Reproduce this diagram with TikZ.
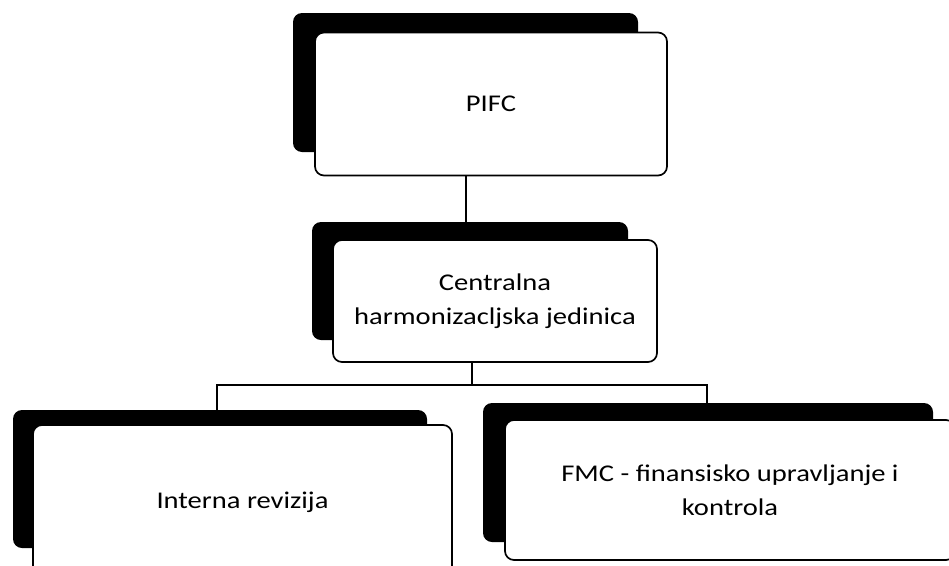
\documentclass[tikz,border=0pt]{standalone}
\usepackage{fontspec}
\setmainfont{Carlito}[FakeStretch=1.19]
\pgfdeclarelayer{background}
\pgfsetlayers{background,main}
\tikzset{
  orgbox/.style={draw=black, line width=1.7pt, fill=white, rounded corners=9pt,
    align=center, inner sep=0pt, font=\fontsize{24}{34}\selectfont},
  shadowfill/.style={fill=black, rounded corners=9pt},
  link/.style={draw=black, line width=1.8pt}
}
\begin{document}
\begin{tikzpicture}[x=1pt,y=-1pt]
\clip (0,0) rectangle (949,565);

\node[orgbox, minimum width=352pt, minimum height=143pt] (pifc) at (491,104) {PIFC};
\node[orgbox, minimum width=324pt, minimum height=122pt] (mid) at (495,301) {Centralna\\harmonizacljska jedinica};
\node[orgbox, minimum width=419pt, minimum height=154pt] (ir) at (242.5,502) {Interna revizija};
\node[orgbox, minimum width=450pt, minimum height=140pt] (fmc) at (730,490) {FMC - finansisko upravljanje i\\kontrola};

\coordinate (tx) at (466,0);
\coordinate (busM) at (472,385);
\coordinate (busL) at (217,385);
\coordinate (busR) at (707,385);

\begin{pgfonlayer}{background}
  \fill[white] (0,0) rectangle (949,565);
  \draw[link] (pifc.south -| tx) -- (mid.north -| tx);
  \draw[link] (mid.south -| busM) -- (busM);
  \draw[link, line cap=rect] (busL) -- (busR);
  \draw[link] (busL) -- (busL |- ir.north);
  \draw[link] (busR) -- (busR |- fmc.north);
  \fill[shadowfill] (293,13) rectangle (638,152);
  \fill[shadowfill] (312,222) rectangle (628,340);
  \fill[shadowfill] (13,410) rectangle (427,548);
  \fill[shadowfill] (483,403) rectangle (933,542);
\end{pgfonlayer}
\end{tikzpicture}
\end{document}
